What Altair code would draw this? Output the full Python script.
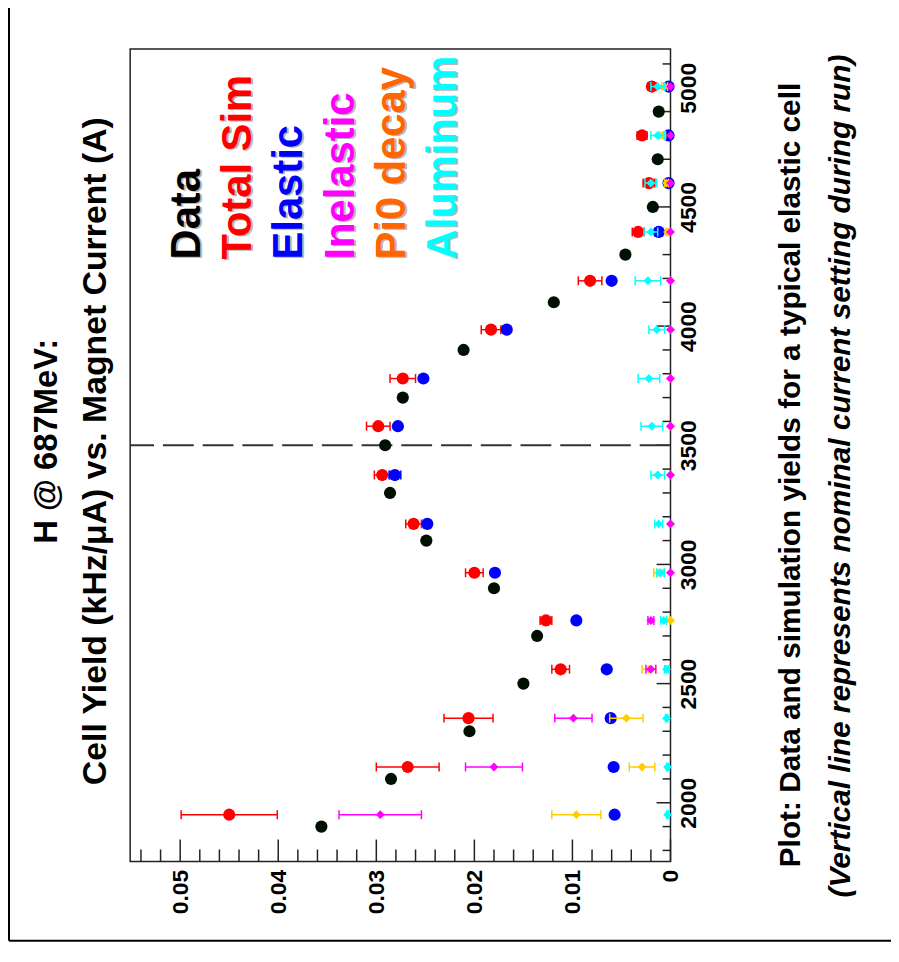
import altair as alt
import pandas as pd

# ---------------- values ----------------
data_current = [1900, 2100, 2300, 2500, 2700, 2900, 3100, 3300, 3500, 3700, 3900, 4100, 4300, 4500, 4700, 4900]
data_yield = [0.0356, 0.0285, 0.0205, 0.0150, 0.0136, 0.0180, 0.0249, 0.0286, 0.0291, 0.0273, 0.0211, 0.0119, 0.0046, 0.0018, 0.0013, 0.0012]

sim_current = [1950, 2150, 2355, 2560, 2765, 2965, 3170, 3375, 3580, 3780, 3985, 4190, 4395, 4600, 4800, 5005]
total_sim = [0.0450, 0.0268, 0.0206, 0.0112, 0.0127, 0.0200, 0.0262, 0.0294, 0.0298, 0.0273, 0.0183, 0.0082, 0.0033, 0.0022, 0.0029, 0.0019]
total_err = [0.0049, 0.0032, 0.0025, 0.0009, 0.0006, 0.0009, 0.0008, 0.0008, 0.0012, 0.0013, 0.0010, 0.0012, 0.0006, 0.0006, 0.0005, 0.0004]
elastic = [0.0057, 0.0058, 0.0061, 0.0065, 0.0096, 0.0179, 0.0248, 0.0281, 0.0278, 0.0252, 0.0167, 0.0060, 0.0012, 0.0002, 0.0002, 0.0002]
elastic_err = [0.0002, 0.0002, 0.0002, 0.0002, 0.0002, 0.0002, 0.0002, 0.0006, 0.0003, 0.0002, 0.0002, 0.0002, 0.0004, 0.0001, 0.0001, 0.0001]
inelastic = [0.0296, 0.0180, 0.0099, 0.0020, 0.0020, 0.0, 0.0, 0.0, 0.0, 0.0, 0.0, 0.0, 0.0, 0.0, 0.0, 0.0]
inelastic_err = [0.0042, 0.0029, 0.0019, 0.0005, 0.0003, 0.0, 0.0, 0.0, 0.0, 0.0, 0.0, 0.0, 0.0, 0.0, 0.0, 0.0]
pi0 = [0.0096, 0.0029, 0.0045, 0.0022, 0.0, 0.0012, 0.0, 0.0, 0.0, 0.0, 0.0, 0.0, 0.0003, 0.0004, 0.0008, 0.0006]
pi0_err = [0.0025, 0.0013, 0.0017, 0.0007, 0.0, 0.0005, 0.0, 0.0, 0.0, 0.0, 0.0, 0.0, 0.0002, 0.0002, 0.0003, 0.0003]
aluminum = [0.0003, 0.0003, 0.0004, 0.0004, 0.0007, 0.0010, 0.0012, 0.0013, 0.0019, 0.0022, 0.0014, 0.0023, 0.0020, 0.0020, 0.0013, 0.0013]
aluminum_err = [0.0001, 0.0001, 0.0001, 0.0002, 0.0003, 0.0004, 0.0004, 0.0007, 0.0011, 0.0011, 0.0008, 0.0013, 0.0007, 0.0006, 0.0007, 0.0007]

nominal_current = [3500]

yield_major = [0, 0.01, 0.02, 0.03, 0.04, 0.05]
yield_minor = [0.002, 0.004, 0.006, 0.008, 0.012, 0.014, 0.016, 0.018, 0.022, 0.024, 0.026, 0.028,
               0.032, 0.034, 0.036, 0.038, 0.042, 0.044, 0.046, 0.048, 0.052, 0.054]
current_major = [2000, 2500, 3000, 3500, 4000, 4500, 5000]
current_minor = [1800, 1900, 2100, 2200, 2300, 2400, 2600, 2700, 2800, 2900, 3100, 3200, 3300, 3400,
                 3600, 3700, 3800, 3900, 4100, 4200, 4300, 4400, 4600, 4700, 4800, 4900, 5100]

legend_labels = ["Data", "Total Sim", "Elastic", "Inelastic", "Pi0 decay", "Aluminum"]
legend_colors = ["#000000", "#ff0000", "#0000ff", "#ff00ff", "#ff6600", "#00ffff"]

title_line1 = "H @ 687MeV:"
title_line2 = "Cell Yield (kHz/\u03bcA) vs. Magnet Current (A)"
caption_line1 = "Plot: Data and simulation yields for a typical elastic cell"
caption_line2 = "(Vertical line represents nominal current setting during run)"

# ---------------- layout ----------------
W, H = 544, 818
FONT = "Liberation Sans, Arial, Helvetica, sans-serif"

xs = alt.Scale(domain=[0, 0.0551], reverse=True, nice=False, zero=False)
ys = alt.Scale(domain=[1754, 5163], nice=False, zero=False)

xaxis = alt.Axis(values=yield_major, format=".2~f", labelAngle=270, labelAlign="right",
                 labelBaseline="middle", labelPadding=8, labelFont=FONT, labelFontSize=23,
                 labelFontWeight="bold", labelColor="black", ticks=False, domain=False,
                 grid=False, title=None, labelFlush=False, labelOverlap=False)
yaxis = alt.Axis(orient="right", values=current_major, format="d", labelAngle=270,
                 labelAlign="center", labelBaseline="top", labelPadding=7, labelFont=FONT,
                 labelFontSize=23, labelFontWeight="bold", labelColor="black", ticks=False,
                 domain=False, grid=False, title=None, labelFlush=False, labelOverlap=False)


def X(f):
    return alt.X(f + ":Q", scale=xs, axis=xaxis)


def Y(f):
    return alt.Y(f + ":Q", scale=ys, axis=yaxis)


dummy = pd.DataFrame({"d": [0]})
layers = []

# axis ticks (inside, ROOT style)
layers.append(alt.Chart(pd.DataFrame({"v": yield_major})).mark_rule(color="#222", strokeWidth=1.5)
              .encode(x=X("v"), y=alt.value(H), y2=alt.value(H - 22)))
layers.append(alt.Chart(pd.DataFrame({"v": yield_minor})).mark_rule(color="#222", strokeWidth=1.5)
              .encode(x=X("v"), y=alt.value(H), y2=alt.value(H - 12)))
layers.append(alt.Chart(pd.DataFrame({"v": current_major})).mark_rule(color="#222", strokeWidth=1.5)
              .encode(y=Y("v"), x=alt.value(W), x2=alt.value(W - 14)))
layers.append(alt.Chart(pd.DataFrame({"v": current_minor})).mark_rule(color="#222", strokeWidth=1.5)
              .encode(y=Y("v"), x=alt.value(W), x2=alt.value(W - 8)))

# nominal current dashed line
layers.append(alt.Chart(pd.DataFrame({"c": nominal_current}))
              .mark_rule(color="#333333", strokeWidth=2, strokeDash=[31, 9])
              .encode(y=Y("c")))

# data points
df_data = pd.DataFrame({"current": data_current, "y": data_yield})
layers.append(alt.Chart(df_data).mark_point(shape="circle", filled=True, size=150,
                                            color="#001000", opacity=1)
              .encode(x=X("y"), y=Y("current")))


def series(vals, errs, color, shape, size):
    df = pd.DataFrame({
        "current": sim_current,
        "y": vals,
        "err": errs,
        "lo": [v - e for v, e in zip(vals, errs)],
        "hi": [v + e for v, e in zip(vals, errs)],
    })
    base = alt.Chart(df)
    with_err = base.transform_filter("datum.err > 0")
    out = [
        with_err.mark_rule(color=color, strokeWidth=1.5).encode(x=X("lo"), x2="hi", y=Y("current")),
        with_err.mark_tick(orient="vertical", color=color, thickness=1.5, size=9, opacity=1)
        .encode(x=X("lo"), y=Y("current")),
        with_err.mark_tick(orient="vertical", color=color, thickness=1.5, size=9, opacity=1)
        .encode(x=X("hi"), y=Y("current")),
        base.mark_point(shape=shape, filled=True, size=size, color=color, opacity=1)
        .encode(x=X("y"), y=Y("current")),
    ]
    return out


layers += series(total_sim, total_err, "#ff0000", "circle", 150)
layers += series(elastic, elastic_err, "#0000ff", "circle", 150)
layers += series(pi0, pi0_err, "#ffcc00", "diamond", 80)
layers += series(inelastic, inelastic_err, "#ff00ff", "diamond", 80)
layers += series(aluminum, aluminum_err, "#00ffff", "diamond", 80)

# legend texts (rotated, with gray shadow)
legend_x0, legend_dx, legend_y = 70, 51.7, 212
for i, (lab, col) in enumerate(zip(legend_labels, legend_colors)):
    px = legend_x0 + i * legend_dx
    tdf = pd.DataFrame({"t": [lab]})
    layers.append(alt.Chart(tdf).mark_text(angle=270, align="left", baseline="alphabetic",
                                           font=FONT, fontSize=42, fontWeight="bold",
                                           color="#b8b8b8")
                  .encode(x=alt.value(px + 2), y=alt.value(legend_y + 1), text="t:N"))
    layers.append(alt.Chart(tdf).mark_text(angle=270, align="left", baseline="alphabetic",
                                           font=FONT, fontSize=42, fontWeight="bold",
                                           color=col)
                  .encode(x=alt.value(px), y=alt.value(legend_y), text="t:N"))

# titles and captions
def label(text, px, py, size, italic=False):
    return (alt.Chart(pd.DataFrame({"t": [text]}))
            .mark_text(angle=270, align="center", baseline="alphabetic", font=FONT,
                       fontSize=size, fontWeight="bold",
                       fontStyle="italic" if italic else "normal", color="black")
            .encode(x=alt.value(px), y=alt.value(py), text="t:N"))


layers.append(label(title_line1, -74, 395, 33))
layers.append(label(title_line2, -24, 405, 34))
layers.append(label(caption_line1, 674, 429, 30))
layers.append(label(caption_line2, 725, 430, 30, italic=True))

# outer canvas border (left and bottom)
layers.append(alt.Chart(dummy).mark_rule(color="black", strokeWidth=2)
              .encode(x=alt.value(-122), y=alt.value(-46), y2=alt.value(898)))
layers.append(alt.Chart(dummy).mark_rule(color="black", strokeWidth=2)
              .encode(y=alt.value(898), x=alt.value(-122), x2=alt.value(766)))

chart = alt.layer(*layers).properties(
    width=W, height=H,
    autosize=alt.AutoSizeParams(type="none"),
    padding={"left": 123, "top": 38, "right": 222, "bottom": 83},
    background="white",
).configure_view(stroke="#222222", strokeWidth=1.5)

chart.save("out.html", embed_options={"renderer": "svg", "actions": False})
